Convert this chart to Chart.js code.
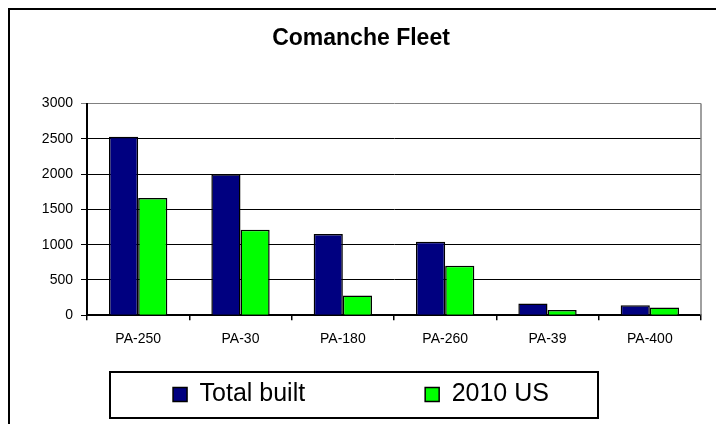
<!DOCTYPE html>
<html><head><meta charset="utf-8">
<script src="https://cdn.jsdelivr.net/npm/chart.js@4.4.1/dist/chart.umd.min.js"></script>
<style>html,body{margin:0;padding:0;background:#fff;overflow:hidden;} #wrap{width:716px;height:424px;position:relative;}</style>
</head><body><div id="wrap"><canvas id="c" width="716" height="424"></canvas></div>
<script>
const categories = ['PA-250', 'PA-30', 'PA-180', 'PA-260', 'PA-39', 'PA-400'];
const totalBuilt = [2530, 2000, 1150, 1040, 165, 140];
const us2010 = [1660, 1210, 280, 700, 75, 108];
const yTickValues = [0, 500, 1000, 1500, 2000, 2500, 3000];
const seriesNames = ['Total built', '2010 US'];
const chartTitle = 'Comanche Fleet';

const FAMILY = '"Liberation Sans", Arial, sans-serif';

const decor = {
  id: 'decor',
  afterLayout(chart) {
    const lg = chart.legend;
    const pad = lg.options.labels.padding;
    lg.top = lg.bottom - 37 - pad;
  },
  beforeDraw(chart) {
    const ctx = chart.ctx;
    ctx.save();
    ctx.fillStyle = '#fff';
    ctx.fillRect(0, 0, chart.width, chart.height);
    ctx.strokeStyle = '#000';
    ctx.lineWidth = 2;
    ctx.strokeRect(9, 9, 900, 600);
    ctx.restore();
  },
  afterDraw(chart) {
    const ctx = chart.ctx, a = chart.chartArea, lg = chart.legend;
    ctx.save();
    ctx.strokeStyle = '#808080';
    ctx.lineWidth = 1.5;
    ctx.beginPath();
    ctx.moveTo(a.right, a.top);
    ctx.lineTo(a.right, a.bottom);
    ctx.stroke();
    ctx.strokeStyle = '#000';
    ctx.lineWidth = 2;
    ctx.strokeRect(110, lg.bottom - 47, 488, 46);
    ctx.restore();
  }
};

new Chart(document.getElementById('c'), {
  type: 'bar',
  data: {
    labels: categories,
    datasets: [
      { label: seriesNames[0], data: totalBuilt, backgroundColor: '#000080', borderColor: '#000', borderWidth: 1.5,
        categoryPercentage: 0.57, barPercentage: 1.0 },
      { label: seriesNames[1], data: us2010, backgroundColor: '#00FF00', borderColor: '#000', borderWidth: 1.5,
        categoryPercentage: 0.57, barPercentage: 1.0 }
    ]
  },
  options: {
    responsive: false,
    animation: false,
    events: [],
    layout: { padding: { top: 10, bottom: 5, left: 21, right: 15 } },
    plugins: {
      title: {
        display: true, text: chartTitle, color: '#000',
        font: { family: FAMILY, size: 23, weight: 'bold' },
        padding: { top: 15, bottom: 51 }
      },
      legend: {
        position: 'bottom',
        maxHeight: 60,
        labels: {
          color: '#000',
          font: { family: FAMILY, size: 25 },
          boxWidth: 14, boxHeight: 14,
          padding: 120
        }
      },
      tooltip: { enabled: false }
    },
    scales: {
      x: {
        grid: { offset: true, drawOnChartArea: false, drawTicks: true, tickLength: 5, color: '#000', lineWidth: 1.5 },
        border: { display: true, color: '#000', width: 2 },
        ticks: { color: '#000', font: { family: FAMILY, size: 14 }, padding: 11, maxRotation: 0, autoSkip: false }
      },
      y: {
        min: 0, max: 3000,
        afterFit(scale) { scale.width = 66; },
        afterBuildTicks(scale) { scale.ticks = yTickValues.map(v => ({ value: v })); },
        grid: {
          color: c => (c.tick && c.tick.value === 3000) ? '#808080' : '#000',
          lineWidth: 1, tickLength: 6, drawTicks: true
        },
        border: { color: '#000', width: 2 },
        ticks: { color: '#000', font: { family: FAMILY, size: 14 }, padding: 8, callback: v => String(v) }
      }
    }
  },
  plugins: [decor]
});
</script>
</body></html>
